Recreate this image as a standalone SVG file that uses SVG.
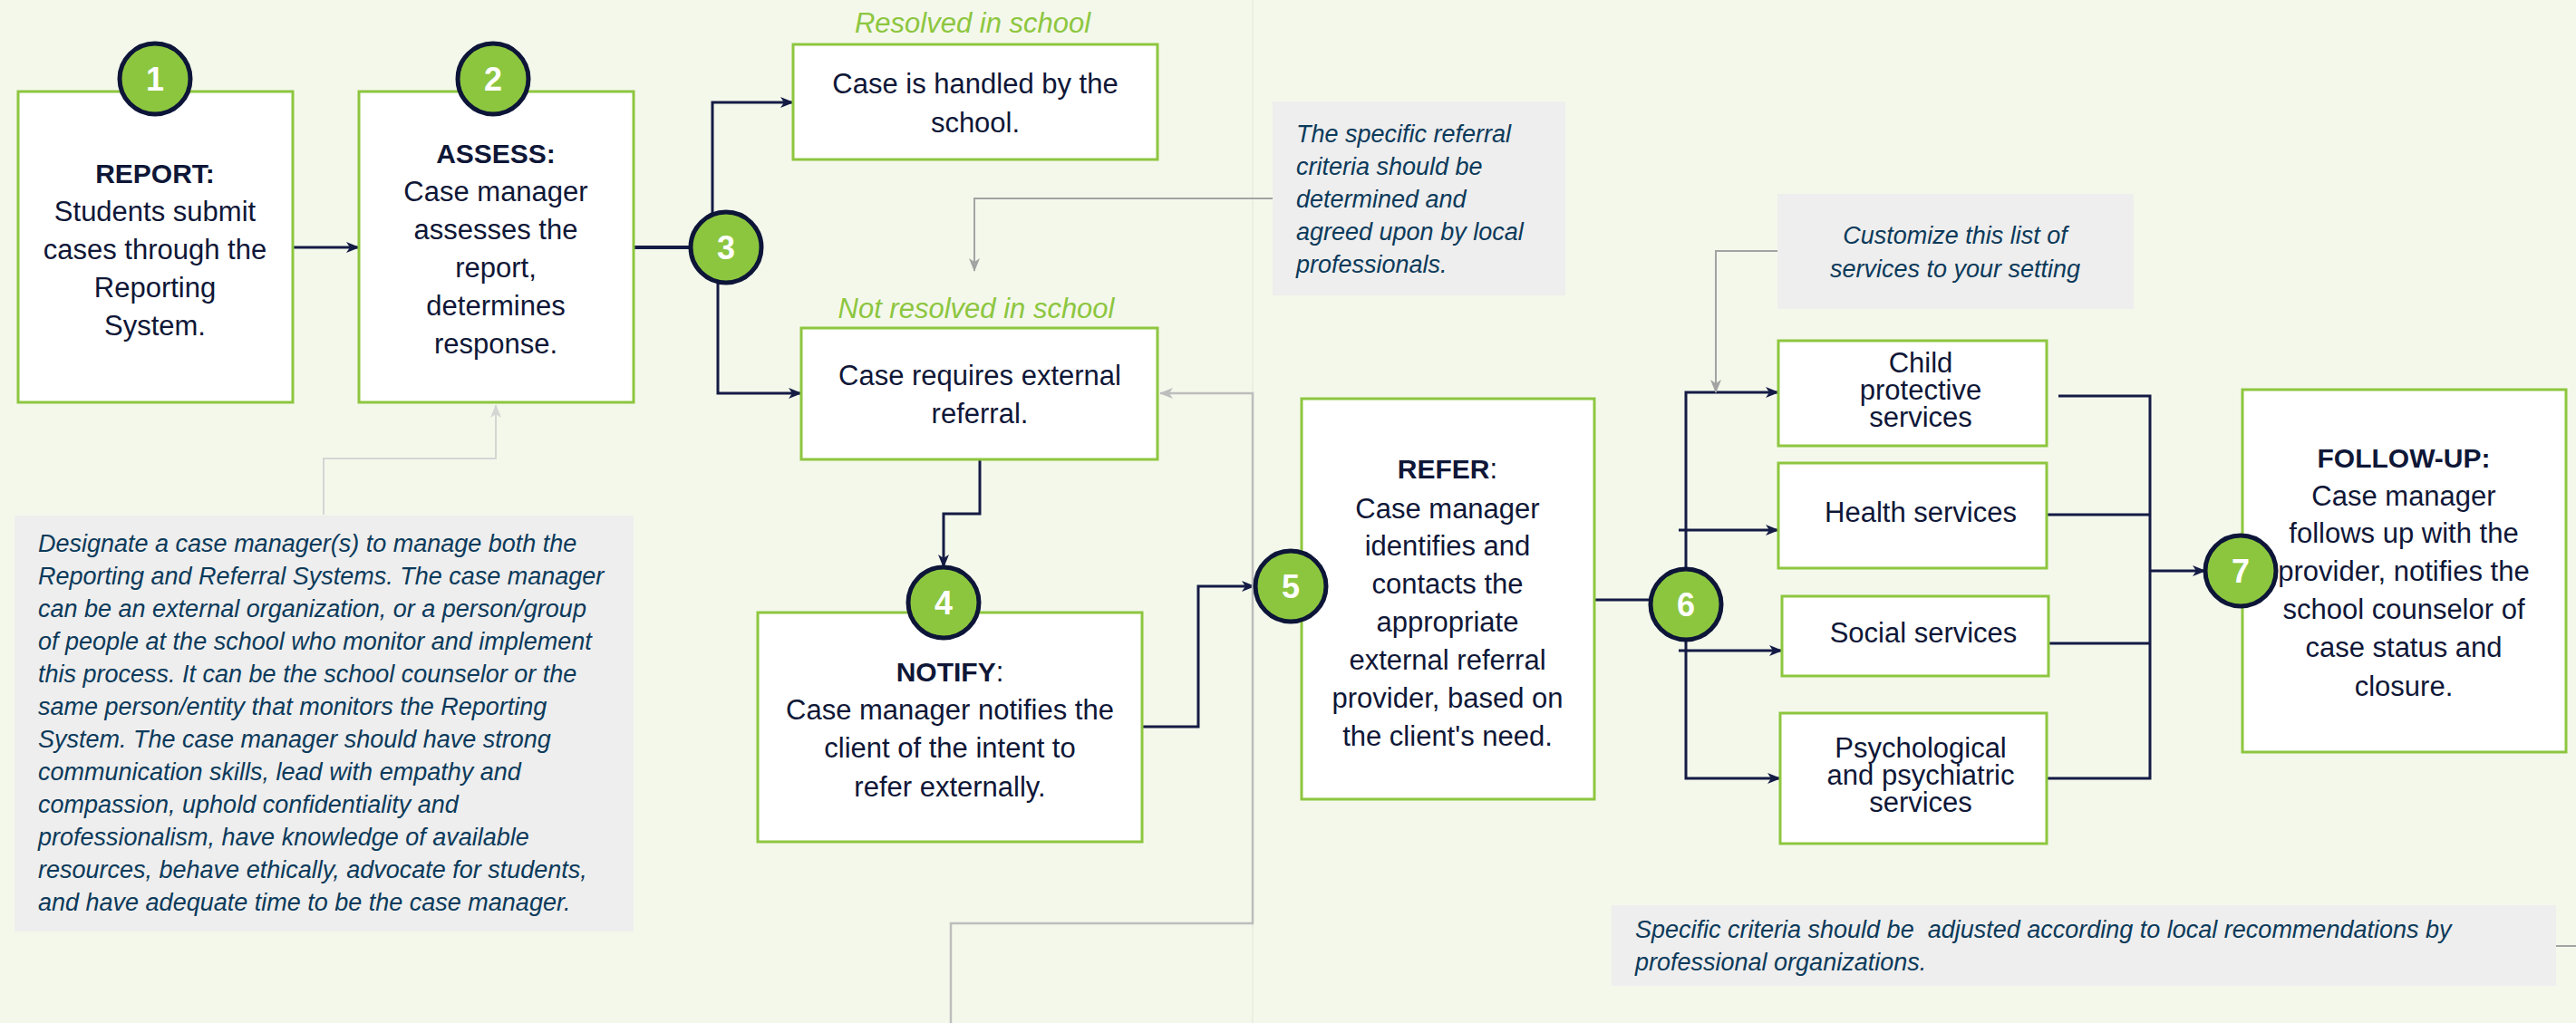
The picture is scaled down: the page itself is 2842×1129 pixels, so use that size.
<svg xmlns="http://www.w3.org/2000/svg" width="2842" height="1129" viewBox="0 0 2842 1129">
<style>
.box{fill:#ffffff;stroke:#8dc63f;stroke-width:3}
.note{fill:#eeeeee}
.t{font-family:"Liberation Sans",Arial,sans-serif;font-size:31px;fill:#0f1737;text-anchor:middle}
.b{font-weight:bold;font-size:30px}
.n{font-family:"Liberation Sans",Arial,sans-serif;font-style:italic;font-size:27px;fill:#0c3a5a}
.g{font-family:"Liberation Sans",Arial,sans-serif;font-style:italic;font-size:31px;fill:#8dc63f;text-anchor:middle}
.circ{fill:#8cc63f;stroke:#0d1538;stroke-width:5}
.num{font-family:"Liberation Sans",Arial,sans-serif;font-weight:bold;font-size:36px;fill:#ffffff;text-anchor:middle}
.c{fill:none;stroke:#141b45;stroke-width:3}
.gc{fill:none;stroke:#a3a3a3;stroke-width:2}
.gl{fill:none;stroke:#bdbdbd;stroke-width:2.5}
.gx{fill:none;stroke:#d3d6d3;stroke-width:2}
</style>
<defs>
<marker id="a" markerUnits="userSpaceOnUse" markerWidth="16" markerHeight="12" refX="14" refY="6" orient="auto">
<path d="M0,0 L15,6 L0,12 L4,6 z" fill="#141b45"/>
</marker>
<marker id="ag" markerUnits="userSpaceOnUse" markerWidth="16" markerHeight="12" refX="14" refY="6" orient="auto">
<path d="M0,0 L15,6 L0,12 L4,6 z" fill="#a3a3a3"/>
</marker>
<marker id="agl" markerUnits="userSpaceOnUse" markerWidth="16" markerHeight="12" refX="14" refY="6" orient="auto">
<path d="M0,0 L15,6 L0,12 L4,6 z" fill="#bdbdbd"/>
</marker>
<marker id="agx" markerUnits="userSpaceOnUse" markerWidth="16" markerHeight="12" refX="14" refY="6" orient="auto">
<path d="M0,0 L15,6 L0,12 L4,6 z" fill="#d3d6d3"/>
</marker>
</defs>
<rect x="0" y="0" width="2842" height="1129" fill="#f4f8eb"/>
<line x1="1382" y1="0" x2="1382" y2="1129" stroke="#e8ede0" stroke-width="1.5"/>

<g id="connectors">
<path class="c" d="M323,273 H396" marker-end="url(#a)"/>
<path class="c" d="M699,273 H765" style="stroke-width:4"/>
<path class="c" d="M786,236 V113 H875" marker-end="url(#a)"/>
<path class="c" d="M792,310 V434 H884" marker-end="url(#a)"/>
<path class="c" d="M1081,507 V567 H1041 V626" marker-end="url(#a)"/>
<path class="c" d="M1260,802 H1322 V647 H1384" marker-end="url(#a)"/>
<path class="c" d="M1759,662 H1822"/>
<path class="c" d="M1860,630 V433 H1962" marker-end="url(#a)"/>
<path class="c" d="M1852,585 H1962" marker-end="url(#a)"/>
<path class="c" d="M1852,718 H1966" marker-end="url(#a)"/>
<path class="c" d="M1860,705 V859 H1964" marker-end="url(#a)"/>
<path class="c" d="M2271,437 H2372 V859 H2258"/>
<path class="c" d="M2258,568 H2372"/>
<path class="c" d="M2258,710 H2372"/>
<path class="c" d="M2372,630 H2433" marker-end="url(#a)"/>
<path class="gc" d="M1404,219 H1075 V299" marker-end="url(#ag)"/>
<path class="gc" d="M1961,277 H1893 V433" marker-end="url(#ag)"/>
<path class="gx" d="M357,568 V506 H547 V447" marker-end="url(#agx)"/>
<path class="gl" d="M1049,1129 V1019 H1382 V434 H1280" marker-end="url(#agl)"/>
<path class="gc" d="M2820,1044 H2842"/>
</g>

<g id="node-report">
<rect class="box" x="20" y="101" width="303" height="343"/>
<text class="t b" x="171" y="202">REPORT:</text>
<text class="t" x="171" y="244">Students submit</text>
<text class="t" x="171" y="286">cases through the</text>
<text class="t" x="171" y="328">Reporting</text>
<text class="t" x="171" y="370">System.</text>
</g>

<g id="node-assess">
<rect class="box" x="396" y="101" width="303" height="343"/>
<text class="t b" x="547" y="180">ASSESS:</text>
<text class="t" x="547" y="222">Case manager</text>
<text class="t" x="547" y="264">assesses the</text>
<text class="t" x="547" y="306">report,</text>
<text class="t" x="547" y="348">determines</text>
<text class="t" x="547" y="390">response.</text>
</g>

<g id="node-resolved">
<text class="g" x="1073" y="36">Resolved in school</text>
<rect class="box" x="875" y="49" width="402" height="127"/>
<text class="t" x="1076" y="103">Case is handled by the</text>
<text class="t" x="1076" y="146">school.</text>
</g>

<g id="node-notresolved">
<text class="g" x="1077" y="351">Not resolved in school</text>
<rect class="box" x="884" y="362" width="393" height="145"/>
<text class="t" x="1081" y="425">Case requires external</text>
<text class="t" x="1081" y="467">referral.</text>
</g>

<g id="node-notify">
<rect class="box" x="836" y="676" width="424" height="253"/>
<text class="t" x="1048" y="752"><tspan font-weight="bold" font-size="30">NOTIFY</tspan>:</text>
<text class="t" x="1048" y="794">Case manager notifies the</text>
<text class="t" x="1048" y="836">client of the intent to</text>
<text class="t" x="1048" y="879">refer externally.</text>
</g>

<g id="node-refer">
<rect class="box" x="1436" y="440" width="323" height="442"/>
<text class="t" x="1597" y="528"><tspan font-weight="bold" font-size="30">REFER</tspan>:</text>
<text class="t" x="1597" y="572">Case manager</text>
<text class="t" x="1597" y="613">identifies and</text>
<text class="t" x="1597" y="655">contacts the</text>
<text class="t" x="1597" y="697">appropriate</text>
<text class="t" x="1597" y="739">external referral</text>
<text class="t" x="1597" y="781">provider, based on</text>
<text class="t" x="1597" y="823">the client's need.</text>
</g>

<g id="node-child">
<rect class="box" x="1962" y="376" width="296" height="116"/>
<text class="t" x="2119" y="411">Child</text>
<text class="t" x="2119" y="441">protective</text>
<text class="t" x="2119" y="471">services</text>
</g>

<g id="node-health">
<rect class="box" x="1962" y="511" width="296" height="116"/>
<text class="t" x="2119" y="576">Health services</text>
</g>

<g id="node-social">
<rect class="box" x="1966" y="658" width="294" height="88"/>
<text class="t" x="2122" y="709">Social services</text>
</g>

<g id="node-psych">
<rect class="box" x="1964" y="787" width="294" height="144"/>
<text class="t" x="2119" y="836">Psychological</text>
<text class="t" x="2119" y="866">and psychiatric</text>
<text class="t" x="2119" y="896">services</text>
</g>

<g id="node-followup">
<rect class="box" x="2474" y="430" width="357" height="400"/>
<text class="t b" x="2652" y="516">FOLLOW-UP:</text>
<text class="t" x="2652" y="558">Case manager</text>
<text class="t" x="2652" y="599">follows up with the</text>
<text class="t" x="2652" y="641">provider, notifies the</text>
<text class="t" x="2652" y="683">school counselor of</text>
<text class="t" x="2652" y="725">case status and</text>
<text class="t" x="2652" y="768">closure.</text>
</g>

<g id="note-casemanager">
<rect class="note" x="16" y="569" width="683" height="459"/>
<text class="n" x="42" y="609">Designate a case manager(s) to manage both the</text>
<text class="n" x="42" y="645">Reporting and Referral Systems. The case manager</text>
<text class="n" x="42" y="681">can be an external organization, or a person/group</text>
<text class="n" x="42" y="717">of people at the school who monitor and implement</text>
<text class="n" x="42" y="753">this process. It can be the school counselor or the</text>
<text class="n" x="42" y="789">same person/entity that monitors the Reporting</text>
<text class="n" x="42" y="825">System. The case manager should have strong</text>
<text class="n" x="42" y="861">communication skills, lead with empathy and</text>
<text class="n" x="42" y="897">compassion, uphold confidentiality and</text>
<text class="n" x="42" y="933">professionalism, have knowledge of available</text>
<text class="n" x="42" y="969">resources, behave ethically, advocate for students,</text>
<text class="n" x="42" y="1005">and have adequate time to be the case manager.</text>
</g>

<g id="note-criteria">
<rect class="note" x="1404" y="112" width="323" height="214"/>
<text class="n" x="1430" y="157">The specific referral</text>
<text class="n" x="1430" y="193">criteria should be</text>
<text class="n" x="1430" y="229">determined and</text>
<text class="n" x="1430" y="265">agreed upon by local</text>
<text class="n" x="1430" y="301">professionals.</text>
</g>

<g id="note-customize">
<rect class="note" x="1961" y="214" width="393" height="127"/>
<text class="n" x="2157" y="269" text-anchor="middle">Customize this list of</text>
<text class="n" x="2157" y="306" text-anchor="middle">services to your setting</text>
</g>

<g id="note-local">
<rect class="note" x="1778" y="999" width="1042" height="89"/>
<text class="n" x="1804" y="1035" xml:space="preserve">Specific criteria should be  adjusted according to local recommendations by</text>
<text class="n" x="1804" y="1071">professional organizations.</text>
</g>

<g id="step-1"><circle class="circ" cx="171" cy="87" r="39"/><text class="num" x="171" y="100">1</text></g>
<g id="step-2"><circle class="circ" cx="544" cy="87" r="39"/><text class="num" x="544" y="100">2</text></g>
<g id="step-3"><circle class="circ" cx="801" cy="273" r="39"/><text class="num" x="801" y="286">3</text></g>
<g id="step-4"><circle class="circ" cx="1041" cy="665" r="39"/><text class="num" x="1041" y="678">4</text></g>
<g id="step-5"><circle class="circ" cx="1424" cy="647" r="39"/><text class="num" x="1424" y="660">5</text></g>
<g id="step-6"><circle class="circ" cx="1860" cy="667" r="39"/><text class="num" x="1860" y="680">6</text></g>
<g id="step-7"><circle class="circ" cx="2472" cy="630" r="39"/><text class="num" x="2472" y="643">7</text></g>
</svg>
